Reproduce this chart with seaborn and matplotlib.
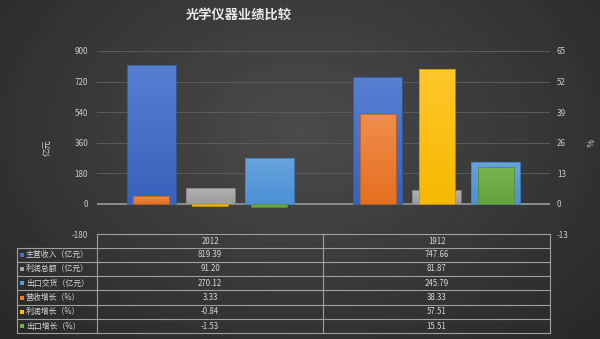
import numpy as np
import pandas as pd
import matplotlib
matplotlib.use('Agg')
import matplotlib.pyplot as plt
import seaborn as sns
from matplotlib.colors import LinearSegmentedColormap, to_rgb
from matplotlib.patches import Rectangle

plt.rcParams['font.family'] = ['Noto Sans CJK SC', 'DejaVu Sans']

# ---------------- data ----------------
categories = ['2012', '1912']
primary_series = ['主营收入（亿元）', '利润总额（亿元）', '出口交货（亿元）']
secondary_series = ['营收增长（%）', '利润增长（%）', '出口增长（%）']
revenue = [819.39, 747.66]
profit = [91.20, 81.87]
export = [270.12, 245.79]
revenue_growth = [3.33, 38.33]
profit_growth = [-0.84, 57.51]
export_growth = [-1.53, 15.51]
left_ticks = [-180, 0, 180, 360, 540, 720, 900]
right_ticks = [-13, 0, 13, 26, 39, 52, 65]
title = '光学仪器业绩比较'
left_label = '亿元'
right_label = '%'

# base colours and (top, bottom) gradient colours
base_colors = ['#4472C4', '#A5A5A5', '#5B9BD5', '#ED7D31', '#FFC000', '#70AD47']
grad_colors = [('#5680d2', '#3862bb'), ('#b2b2b2', '#9c9c9c'), ('#67a3dd', '#4b91d5'),
               ('#f08e4c', '#e56f1f'), ('#ffc72a', '#f5b900'), ('#79b452', '#63a23d')]
edge_colors = ['#34589a', '#808080', '#4282c2', '#bd6020', '#c89500', '#538f33']

df1 = pd.DataFrame({
    '年份': categories * 3,
    '系列': sum([[s] * 2 for s in primary_series], []),
    '值': revenue + profit + export,
})
df2 = pd.DataFrame({
    '年份': categories * 3,
    '系列': sum([[s] * 2 for s in secondary_series], []),
    '值': revenue_growth + profit_growth + export_growth,
})

W, H = 600, 339
fig = plt.figure(figsize=(6, 3.39), dpi=100)

# background radial gradient
bg = fig.add_axes([0, 0, 1, 1], zorder=-10)
yy, xx = np.mgrid[0:H, 0:W]
d = np.sqrt(((xx - 300) / 420.0) ** 2 + ((yy - 130) / 300.0) ** 2)
img = np.clip(0.295 - 0.14 * d, 0.12, 1)
bg.imshow(img, cmap='gray', vmin=0, vmax=1, extent=[0, W, H, 0], aspect='auto', interpolation='bilinear')
bg.set_xlim(0, W); bg.set_ylim(H, 0); bg.axis('off')

left, right, top, bottom = 97, 550, 51, 234.3
ax = fig.add_axes([left / W, 1 - bottom / H, (right - left) / W, (bottom - top) / H])
ax.patch.set_visible(False)

sns.barplot(data=df1, x='年份', y='值', hue='系列', order=categories, hue_order=primary_series,
            palette=base_colors[:3], width=0.78, gap=0.17, ax=ax, legend=False,
            edgecolor='none', linewidth=0)
ax2 = ax.twinx()
sns.barplot(data=df2, x='年份', y='值', hue='系列', order=categories, hue_order=secondary_series,
            palette=base_colors[3:], width=0.78, gap=0.39, ax=ax2, legend=False,
            edgecolor='none', linewidth=0)


def gradient_fill(axis):
    for p in list(axis.patches):
        fc = np.array(p.get_facecolor()[:3])
        idx = int(np.argmin([np.sum((fc - np.array(to_rgb(c))) ** 2) for c in base_colors]))
        topc, botc = grad_colors[idx]
        x0, y0, w, h = p.get_x(), p.get_y(), p.get_width(), p.get_height()
        ylo, yhi = min(y0, y0 + h), max(y0, y0 + h)
        cmap = LinearSegmentedColormap.from_list('g', [botc, topc])
        grad = np.linspace(0, 1, 64).reshape(-1, 1)
        im = axis.imshow(grad, extent=[x0, x0 + w, ylo, yhi], origin='lower', cmap=cmap,
                         aspect='auto', zorder=p.get_zorder() - 0.01, interpolation='bilinear')
        im.set_clip_path(p)
        p.set_facecolor('none')
        p.set_edgecolor(edge_colors[idx])
        p.set_linewidth(0.6)


gradient_fill(ax)
gradient_fill(ax2)

for a in (ax, ax2):
    a.set_xlim(-0.5, 1.5)
    a.set_xlabel('')
    a.set_ylabel('')
    a.set_xticks([])
    for s in a.spines.values():
        s.set_visible(False)
    a.tick_params(axis='y', length=0, labelsize=5.8, labelcolor='#cccccc')

ax.set_ylim(-180, 900)
ax.set_yticks(left_ticks)
ax.set_yticklabels([str(t) for t in left_ticks])
ax.tick_params(axis='y', pad=6.5)
ax2.set_ylim(-13, 65)
ax2.set_yticks(right_ticks)
ax2.set_yticklabels([str(t) for t in right_ticks])
ax2.tick_params(axis='y', pad=5)

ax.set_axisbelow(True)
ax.grid(axis='y', color='#5c5c5c', linewidth=0.7)
ax.grid(axis='x', visible=False)
ax.axhline(0, color='#8c8c8c', linewidth=1.4, zorder=0.8)

fig.text(239 / W, 1 - 15 / H, title, ha='center', va='center', fontsize=9.5, fontweight='bold', color='#e8e8e8')
fig.text(47 / W, 1 - 148 / H, left_label, ha='center', va='center', rotation=90, fontsize=6, color='#d4d4d4')
fig.text(588 / W, 1 - 143 / H, right_label, ha='center', va='center', rotation=270, fontsize=6, color='#d4d4d4')

# ---------------- data table ----------------
tab = fig.add_axes([0, 0, 1, 1], zorder=5)
tab.set_xlim(0, W); tab.set_ylim(H, 0); tab.axis('off')
tab.patch.set_visible(False)
lc = '#a0a0a0'
lw = 0.8
x_l, x_a, x_m, x_r = 16.7, 97, 323.3, 550
rows_y = [234.3, 247.7, 261.7, 276, 290.3, 304.7, 319, 333.3]
tab.plot([x_a, x_r], [rows_y[0]] * 2, color=lc, lw=lw)
for y in rows_y[1:]:
    tab.plot([x_l, x_r], [y, y], color=lc, lw=lw)
for x in (x_a, x_m, x_r):
    tab.plot([x, x], [rows_y[0], rows_y[-1]], color=lc, lw=lw)
tab.plot([x_l, x_l], [rows_y[1], rows_y[-1]], color=lc, lw=lw)

tc = '#d8d8d8'
fs = 5.7
col_centers = [(x_a + x_m) / 2, (x_m + x_r) / 2]
for c, cat in zip(col_centers, categories):
    tab.text(c, (rows_y[0] + rows_y[1]) / 2, cat, ha='center', va='center', fontsize=fs, color=tc)

all_series = primary_series + secondary_series
all_values = [revenue, profit, export, revenue_growth, profit_growth, export_growth]
for i, (name, vals) in enumerate(zip(all_series, all_values)):
    yc = (rows_y[i + 1] + rows_y[i + 2]) / 2
    tab.add_patch(Rectangle((19.8, yc - 2), 4, 4, facecolor=base_colors[i], edgecolor='none'))
    tab.text(26, yc, name, ha='left', va='center', fontsize=fs, color=tc)
    for c, v in zip(col_centers, vals):
        tab.text(c, yc, f'{v:.2f}', ha='center', va='center', fontsize=fs, color=tc)

fig.savefig('out.png', dpi=100)
